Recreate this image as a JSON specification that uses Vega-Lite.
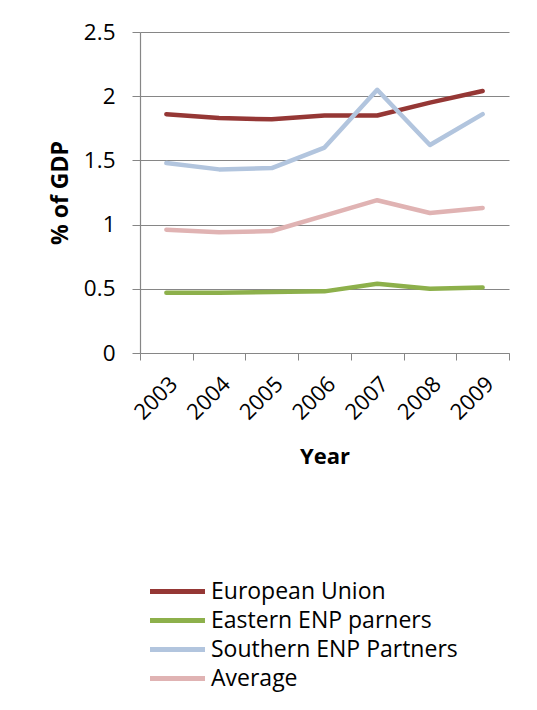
{
  "$schema": "https://vega.github.io/schema/vega-lite/v6.json",
  "width": 369,
  "height": 321,
  "autosize": {"type": "none"},
  "padding": {"left": 140, "top": 32, "right": 28, "bottom": 357},
  "background": "white",
  "config": {
    "font": "Open Sans",
    "view": {"stroke": null},
    "axis": {"labelFont": "Open Sans", "titleFont": "Open Sans", "labelColor": "black", "titleColor": "black", "domainColor": "#868686", "tickColor": "#868686", "gridColor": "#868686"}
  },
  "data": {
    "values": [
      {"Year": "2003", "Series": "European Union", "Value": 1.86},
      {"Year": "2004", "Series": "European Union", "Value": 1.83},
      {"Year": "2005", "Series": "European Union", "Value": 1.82},
      {"Year": "2006", "Series": "European Union", "Value": 1.85},
      {"Year": "2007", "Series": "European Union", "Value": 1.85},
      {"Year": "2008", "Series": "European Union", "Value": 1.95},
      {"Year": "2009", "Series": "European Union", "Value": 2.04},
      {"Year": "2003", "Series": "Eastern ENP parners", "Value": 0.47},
      {"Year": "2004", "Series": "Eastern ENP parners", "Value": 0.47},
      {"Year": "2005", "Series": "Eastern ENP parners", "Value": 0.475},
      {"Year": "2006", "Series": "Eastern ENP parners", "Value": 0.48},
      {"Year": "2007", "Series": "Eastern ENP parners", "Value": 0.54},
      {"Year": "2008", "Series": "Eastern ENP parners", "Value": 0.5},
      {"Year": "2009", "Series": "Eastern ENP parners", "Value": 0.51},
      {"Year": "2003", "Series": "Southern ENP Partners", "Value": 1.48},
      {"Year": "2004", "Series": "Southern ENP Partners", "Value": 1.43},
      {"Year": "2005", "Series": "Southern ENP Partners", "Value": 1.44},
      {"Year": "2006", "Series": "Southern ENP Partners", "Value": 1.6},
      {"Year": "2007", "Series": "Southern ENP Partners", "Value": 2.05},
      {"Year": "2008", "Series": "Southern ENP Partners", "Value": 1.62},
      {"Year": "2009", "Series": "Southern ENP Partners", "Value": 1.86},
      {"Year": "2003", "Series": "Average", "Value": 0.96},
      {"Year": "2004", "Series": "Average", "Value": 0.94},
      {"Year": "2005", "Series": "Average", "Value": 0.95},
      {"Year": "2006", "Series": "Average", "Value": 1.07},
      {"Year": "2007", "Series": "Average", "Value": 1.19},
      {"Year": "2008", "Series": "Average", "Value": 1.09},
      {"Year": "2009", "Series": "Average", "Value": 1.13}
    ]
  },
  "mark": {"type": "line", "strokeWidth": 4.5, "strokeCap": "round", "strokeJoin": "round"},
  "encoding": {
    "x": {
      "field": "Year", "type": "ordinal",
      "scale": {"type": "band", "paddingInner": 0, "paddingOuter": 0},
      "bandPosition": 0.5,
      "axis": {"title": "Year", "titleFontSize": 22, "titleFontWeight": "bold", "titlePadding": 23,
        "labelAngle": -45, "labelFontSize": 22, "labelPadding": 13, "tickBand": "extent", "tickSize": 7, "grid": false, "domainWidth": 1.2}
    },
    "y": {
      "field": "Value", "type": "quantitative",
      "scale": {"domain": [0, 2.5]},
      "axis": {"title": "% of GDP", "titleFontSize": 23, "titleFontWeight": "bold", "titlePadding": 11,
        "values": [0, 0.5, 1, 1.5, 2, 2.5], "format": "~g", "labelFontSize": 22.5, "tickSize": 8, "labelPadding": 17, "grid": true, "gridWidth": 1.2, "domainWidth": 1.2}
    },
    "color": {
      "field": "Series", "type": "nominal",
      "scale": {"domain": ["European Union", "Eastern ENP parners", "Southern ENP Partners", "Average"],
        "range": ["#953735", "#8DB04B", "#B2C5DE", "#E0B3B3"]},
      "legend": {"title": null, "orient": "none", "legendX": 21, "legendY": 543, "direction": "vertical",
        "symbolType": "M-2,0H2", "symbolSize": 756, "symbolStrokeWidth": 5, "labelFontSize": 23, "labelColor": "black",
        "labelOffset": 17, "rowPadding": 0, "labelFont": "Open Sans", "labelLimit": 400}
    }
  }
}
